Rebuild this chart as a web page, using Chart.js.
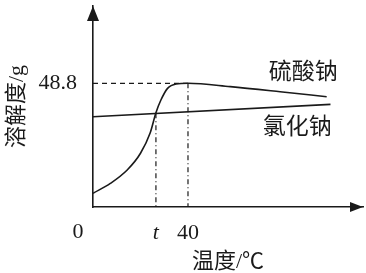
<!DOCTYPE html>
<html>
<head>
<meta charset="utf-8">
<script src="https://cdn.jsdelivr.net/npm/chart.js@4/dist/chart.umd.min.js"></script>
<style>
  body { margin: 0; background: #fff; }
  canvas { display: block; }
</style>
</head>
<body>
<canvas id="solChart" width="366" height="273"></canvas>
<script>
// (temperature in °C, solubility in g)
const na2so4Temps = [0, 7.3, 14.4, 20, 24.1, 26.5, 28.6, 31.4, 35, 40, 57.8, 78.8, 98.4];
const na2so4Sol = [5.4, 9.3, 14.6, 21.2, 29.3, 37.2, 42.2, 46.8, 48.5, 48.8, 47.5, 45.5, 43.5];
const naclTemps = [0, 100];
const naclSol = [35.6, 40.5];
const tCross = 26.5;
const tCrossSol = 37.0;
const peakTemp = 40;
const peakSol = 48.8;
const xTickValues = [tCross, peakTemp];
const xTickLabels = ['t', '40'];
const yTickValues = [peakSol];
const yTickLabels = ['48.8'];

const FONT = '"Liberation Serif", "Noto Sans CJK SC", serif';
const INK = '#1a1a1a';

const toPoints = (xs, ys) => xs.map((x, i) => ({ x: x, y: ys[i] }));

const extras = {
    id: 'extras',
    afterDraw(chart) {
        const { ctx, chartArea: a, scales: { x, y } } = chart;
        ctx.save();
        ctx.fillStyle = INK;
        // arrow heads
        ctx.beginPath();
        ctx.moveTo(a.left, a.top);
        ctx.lineTo(a.left - 6, a.top + 15);
        ctx.lineTo(a.left + 6, a.top + 15);
        ctx.closePath();
        ctx.fill();
        ctx.beginPath();
        ctx.moveTo(a.right, a.bottom);
        ctx.lineTo(a.right - 13, a.bottom - 5);
        ctx.lineTo(a.right - 13, a.bottom + 5);
        ctx.closePath();
        ctx.fill();
        // origin + series names
        ctx.textAlign = 'center';
        ctx.textBaseline = 'middle';
        ctx.font = '22px ' + FONT;
        ctx.fillText('0', a.left - 15, a.bottom + 25);
        ctx.font = '23px ' + FONT;
        ctx.fillText('硫酸钠', x.getPixelForValue(88.5), y.getPixelForValue(52.9));
        ctx.fillText('氯化钠', x.getPixelForValue(86), y.getPixelForValue(31.2));
        ctx.restore();
    }
};

new Chart(document.getElementById('solChart'), {
    type: 'line',
    data: {
        datasets: [
            { label: '硫酸钠', data: toPoints(na2so4Temps, na2so4Sol), borderColor: INK, borderWidth: 1.6,
              pointRadius: 0, cubicInterpolationMode: 'monotone', fill: false },
            { label: '氯化钠', data: toPoints(naclTemps, naclSol), borderColor: INK, borderWidth: 1.6,
              pointRadius: 0, fill: false },
            { label: 'h', data: [{ x: 0, y: peakSol }, { x: peakTemp, y: peakSol }], borderColor: INK,
              borderWidth: 1.2, borderDash: [5, 4], pointRadius: 0 },
            { label: 'v40', data: [{ x: peakTemp, y: peakSol }, { x: peakTemp, y: 0 }], borderColor: INK,
              borderWidth: 1.2, borderDash: [5, 3, 1, 3], pointRadius: 0 },
            { label: 'vt', data: [{ x: tCross, y: tCrossSol }, { x: tCross, y: 0 }], borderColor: INK,
              borderWidth: 1.2, borderDash: [5, 3, 1, 3], pointRadius: 0 }
        ]
    },
    options: {
        responsive: false,
        animation: false,
        layout: { padding: { top: 6, right: 3, left: 0, bottom: 0 } },
        plugins: { legend: { display: false }, tooltip: { enabled: false } },
        scales: {
            x: {
                type: 'linear', min: 0, max: 113.7,
                grid: { display: false },
                border: { display: true, color: INK, width: 1.6 },
                afterBuildTicks: s => { s.ticks = xTickValues.map(v => ({ value: v })); },
                afterFit: s => { s.height = 66; s.paddingLeft = 0; s.paddingRight = 0; },
                ticks: {
                    color: INK, padding: 5,
                    font: c => ({ family: FONT, size: 22, style: c.index === 0 ? 'italic' : 'normal' }),
                    callback: (v, i) => xTickLabels[i]
                },
                title: { display: true, text: '温度/℃', color: INK, font: { family: FONT, size: 22 },
                         padding: { top: 0, bottom: -2 } }
            },
            y: {
                type: 'linear', min: 0, max: 79.3,
                grid: { display: false },
                border: { display: true, color: INK, width: 1.6 },
                afterBuildTicks: s => { s.ticks = yTickValues.map(v => ({ value: v })); },
                afterFit: s => { s.width = 93; s.paddingTop = 0; s.paddingBottom = 0; },
                ticks: { color: INK, padding: 8, font: { family: FONT, size: 22 },
                         callback: (v, i) => yTickLabels[i] },
                title: { display: true, text: '溶解度/g', color: INK, font: { family: FONT, size: 22 },
                         padding: { top: 4, bottom: 0 } }
            }
        }
    },
    plugins: [extras]
});
</script>
</body>
</html>
